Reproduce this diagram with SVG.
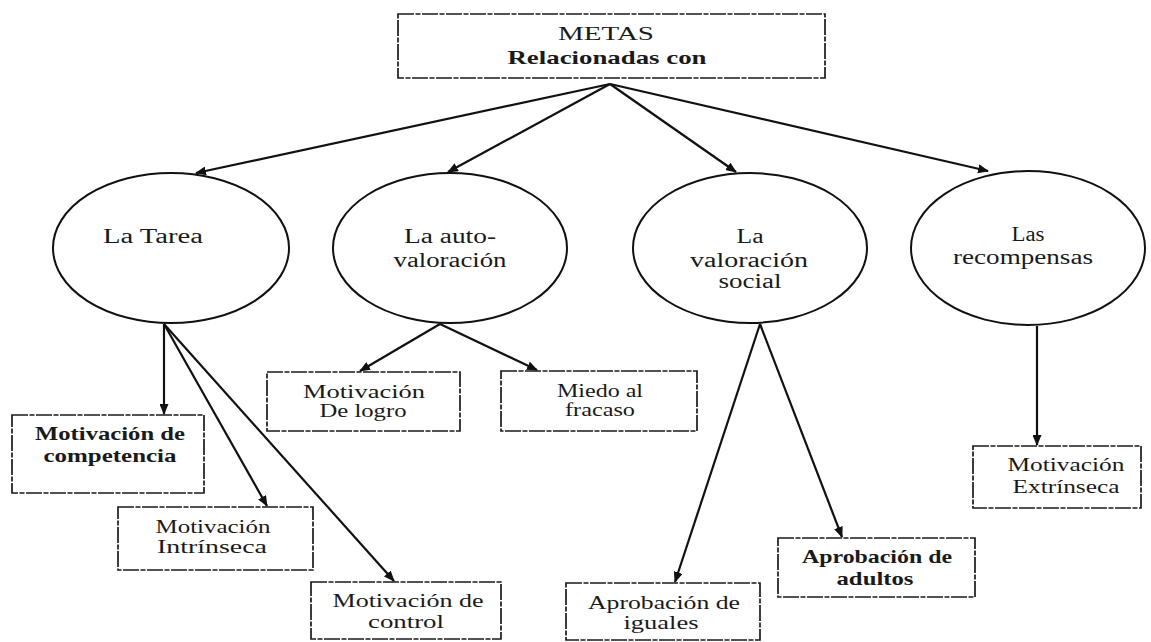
<svg xmlns="http://www.w3.org/2000/svg" width="1151" height="642" viewBox="0 0 1151 642" font-family="'Liberation Serif', 'DejaVu Serif', 'Times New Roman', serif">
  <style>
    .box { fill: #ffffff; stroke: #1a1a1a; stroke-width: 1.7; stroke-dasharray: 16 1.5 5 1.5; }
    .oval { fill: #ffffff; stroke: #111111; stroke-width: 2; }
    .edge { fill: none; stroke: #111111; stroke-width: 2.2; marker-end: url(#tip); }
    text { font-family: 'Liberation Serif', 'DejaVu Serif', 'Times New Roman', serif; fill: #1a1a1a; text-anchor: middle; }
    .t { font-size: 19px; }
    .tb { font-size: 19px; font-weight: bold; }
    .e { font-size: 20px; }
  </style>
  <defs>
    <marker id="tip" markerUnits="userSpaceOnUse" markerWidth="11" markerHeight="9" refX="10" refY="4.5" orient="auto">
      <path d="M0,0 L11,4.5 L0,9 z" fill="#111111"/>
    </marker>
  </defs>
  <rect width="1151" height="642" fill="#ffffff"/>

  <!-- connectors -->
  <g id="connectors">
    <line class="edge" x1="610" y1="84" x2="196" y2="173"/>
    <line class="edge" x1="610" y1="84" x2="448" y2="172"/>
    <line class="edge" x1="610" y1="84" x2="736" y2="172"/>
    <line class="edge" x1="610" y1="84" x2="988" y2="171"/>
    <line class="edge" x1="164" y1="324" x2="164" y2="414"/>
    <line class="edge" x1="164" y1="324" x2="267" y2="506"/>
    <line class="edge" x1="164" y1="324" x2="394" y2="581"/>
    <line class="edge" x1="440" y1="324" x2="360" y2="371"/>
    <line class="edge" x1="440" y1="324" x2="537" y2="370"/>
    <line class="edge" x1="760" y1="324" x2="675" y2="582"/>
    <line class="edge" x1="760" y1="324" x2="842" y2="537"/>
    <line class="edge" x1="1037" y1="326" x2="1037" y2="445"/>
  </g>

  <!-- root -->
  <g id="metas">
    <rect class="box" x="398" y="14" width="427" height="64"/>
    <text class="t" x="606" y="40" textLength="96" lengthAdjust="spacingAndGlyphs">METAS</text>
    <text class="tb" x="607" y="64" textLength="199" lengthAdjust="spacingAndGlyphs">Relacionadas con</text>
  </g>

  <!-- second level -->
  <g id="la-tarea">
    <ellipse class="oval" cx="171" cy="248" rx="118" ry="75"/>
    <text class="e" x="153" y="243" textLength="100" lengthAdjust="spacingAndGlyphs">La Tarea</text>
  </g>
  <g id="autovaloracion">
    <ellipse class="oval" cx="450" cy="248" rx="117" ry="75"/>
    <text class="e" x="450" y="243" textLength="92" lengthAdjust="spacingAndGlyphs">La auto-</text>
    <text class="e" x="450" y="267" textLength="113" lengthAdjust="spacingAndGlyphs">valoración</text>
  </g>
  <g id="valoracion-social">
    <ellipse class="oval" cx="750" cy="248" rx="117" ry="75"/>
    <text class="e" x="750" y="243" textLength="27" lengthAdjust="spacingAndGlyphs">La</text>
    <text class="e" x="749" y="267" textLength="118" lengthAdjust="spacingAndGlyphs">valoración</text>
    <text class="e" x="750" y="288" textLength="63" lengthAdjust="spacingAndGlyphs">social</text>
  </g>
  <g id="recompensas">
    <ellipse class="oval" cx="1028" cy="248" rx="117" ry="77"/>
    <text class="e" x="1028" y="241" textLength="33" lengthAdjust="spacingAndGlyphs">Las</text>
    <text class="e" x="1023" y="264" textLength="140" lengthAdjust="spacingAndGlyphs">recompensas</text>
  </g>

  <!-- third level -->
  <g id="competencia">
    <rect class="box" x="12" y="415" width="192" height="78"/>
    <text class="tb" x="110" y="440" textLength="150" lengthAdjust="spacingAndGlyphs">Motivación de</text>
    <text class="tb" x="110" y="462" textLength="133" lengthAdjust="spacingAndGlyphs">competencia</text>
  </g>
  <g id="intrinseca">
    <rect class="box" x="118" y="507" width="195" height="63"/>
    <text class="t" x="213" y="533" textLength="115" lengthAdjust="spacingAndGlyphs">Motivación</text>
    <text class="t" x="212" y="553" textLength="110" lengthAdjust="spacingAndGlyphs">Intrínseca</text>
  </g>
  <g id="control">
    <rect class="box" x="311" y="582" width="190" height="57"/>
    <text class="t" x="408" y="607" textLength="151" lengthAdjust="spacingAndGlyphs">Motivación de</text>
    <text class="t" x="406" y="628" textLength="76" lengthAdjust="spacingAndGlyphs">control</text>
  </g>
  <g id="logro">
    <rect class="box" x="267" y="372" width="193" height="59"/>
    <text class="t" x="364" y="398" textLength="122" lengthAdjust="spacingAndGlyphs">Motivación</text>
    <text class="t" x="363" y="417" textLength="87" lengthAdjust="spacingAndGlyphs">De logro</text>
  </g>
  <g id="miedo">
    <rect class="box" x="501" y="371" width="196" height="60"/>
    <text class="t" x="600" y="397" textLength="86" lengthAdjust="spacingAndGlyphs">Miedo al</text>
    <text class="t" x="600" y="416" textLength="70" lengthAdjust="spacingAndGlyphs">fracaso</text>
  </g>
  <g id="iguales">
    <rect class="box" x="566" y="583" width="194" height="57"/>
    <text class="t" x="664" y="609" textLength="152" lengthAdjust="spacingAndGlyphs">Aprobación de</text>
    <text class="t" x="661" y="629" textLength="75" lengthAdjust="spacingAndGlyphs">iguales</text>
  </g>
  <g id="adultos">
    <rect class="box" x="778" y="538" width="197" height="59"/>
    <text class="tb" x="877" y="563" textLength="150" lengthAdjust="spacingAndGlyphs">Aprobación de</text>
    <text class="tb" x="875" y="585" textLength="77" lengthAdjust="spacingAndGlyphs">adultos</text>
  </g>
  <g id="extrinseca">
    <rect class="box" x="973" y="446" width="168" height="62"/>
    <text class="t" x="1066" y="471" textLength="117" lengthAdjust="spacingAndGlyphs">Motivación</text>
    <text class="t" x="1066" y="493" textLength="107" lengthAdjust="spacingAndGlyphs">Extrínseca</text>
  </g>
</svg>
